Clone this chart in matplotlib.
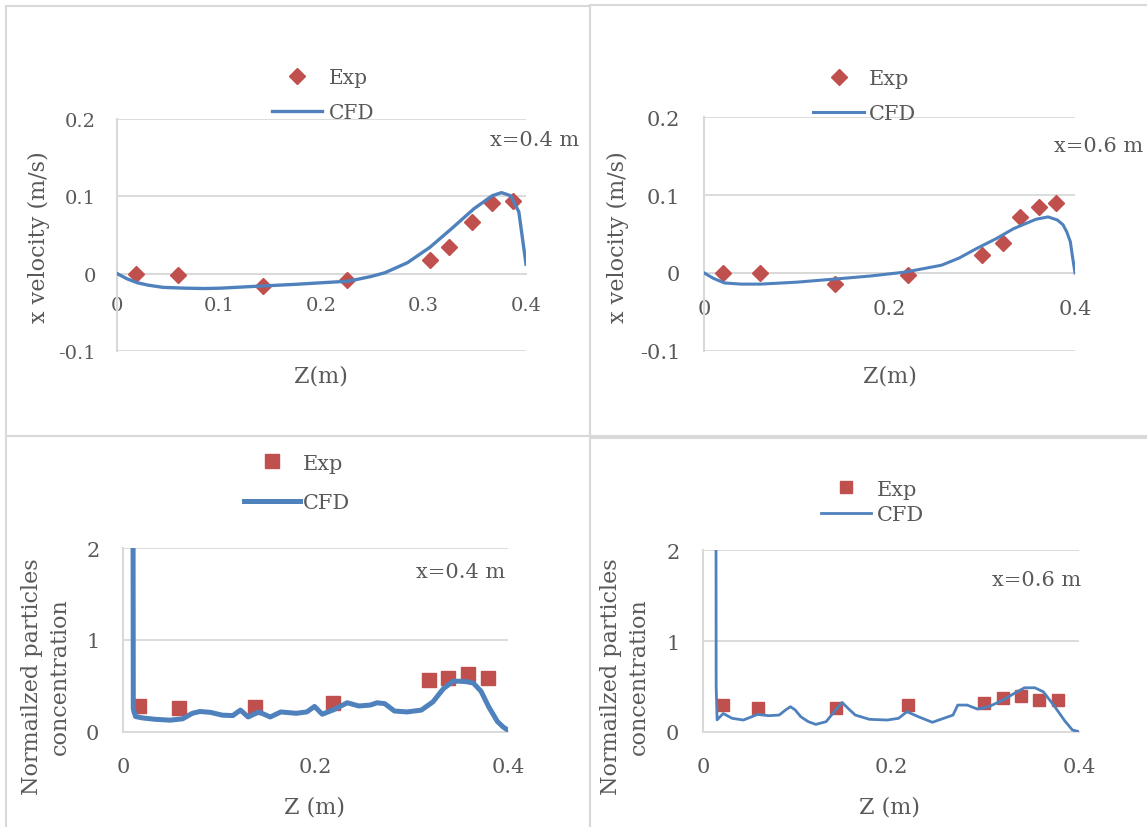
import matplotlib
matplotlib.use("Agg")
import matplotlib.pyplot as plt
from matplotlib.patches import Rectangle

plt.rcParams['font.family'] = ['DejaVu Serif']

# ---- data ----
# x velocity, x=0.4 m
z_exp_v04 = [0.019, 0.060, 0.143, 0.225, 0.306, 0.325, 0.347, 0.367, 0.387]
u_exp_v04 = [0.0, -0.002, -0.016, -0.008, 0.018, 0.034, 0.067, 0.091, 0.094]
z_cfd_v04 = [0, 0.01, 0.02, 0.03, 0.045, 0.066, 0.085, 0.102, 0.13, 0.175, 0.2, 0.226,
             0.248, 0.262, 0.284, 0.306, 0.327, 0.349, 0.367, 0.376, 0.385, 0.393, 0.4]
u_cfd_v04 = [0, -0.007, -0.012, -0.015, -0.018, -0.019, -0.0195, -0.019, -0.017, -0.014, -0.012, -0.010,
             -0.004, 0.001, 0.014, 0.034, 0.058, 0.084, 0.101, 0.105, 0.101, 0.08, 0.012]

# x velocity, x=0.6 m
z_exp_v06 = [0.021, 0.060, 0.141, 0.220, 0.300, 0.322, 0.341, 0.361, 0.380]
u_exp_v06 = [0.0, 0.0, -0.014, -0.003, 0.023, 0.038, 0.072, 0.085, 0.090]
z_cfd_v06 = [0, 0.01, 0.022, 0.04, 0.061, 0.1, 0.141, 0.18, 0.217, 0.256, 0.275, 0.295, 0.315,
             0.334, 0.358, 0.371, 0.381, 0.387, 0.391, 0.395, 0.397, 0.4]
u_cfd_v06 = [0, -0.007, -0.013, -0.0145, -0.0145, -0.012, -0.008, -0.004, 0.001, 0.0098, 0.019, 0.032, 0.044,
             0.057, 0.069, 0.072, 0.068, 0.062, 0.053, 0.04, 0.023, 0.0]

# particle concentration, x=0.4 m
z_exp_c04 = [0.017, 0.058, 0.137, 0.218, 0.318, 0.338, 0.358, 0.379]
c_exp_c04 = [0.28, 0.26, 0.27, 0.31, 0.56, 0.585, 0.63, 0.585]
z_cfd_c04 = [0.0104, 0.0107, 0.013, 0.02, 0.033, 0.049, 0.062, 0.072, 0.08, 0.091, 0.103, 0.114, 0.122,
             0.130, 0.141, 0.153, 0.164, 0.18, 0.191, 0.199, 0.207, 0.218, 0.233, 0.245, 0.257, 0.264,
             0.272, 0.282, 0.295, 0.31, 0.322, 0.333, 0.343, 0.350, 0.357, 0.364, 0.372, 0.38, 0.389,
             0.395, 0.4]
c_cfd_c04 = [2.6, 0.25, 0.165, 0.15, 0.135, 0.125, 0.14, 0.2, 0.22, 0.21, 0.18, 0.175, 0.235,
             0.16, 0.215, 0.16, 0.215, 0.2, 0.215, 0.275, 0.19, 0.235, 0.315, 0.28, 0.29, 0.315,
             0.305, 0.225, 0.215, 0.235, 0.325, 0.47, 0.55, 0.55, 0.545, 0.53, 0.44, 0.27, 0.11,
             0.05, 0.015]

# particle concentration, x=0.6 m
z_exp_c06 = [0.0215, 0.059, 0.141, 0.218, 0.299, 0.319, 0.338, 0.357, 0.378]
c_exp_c06 = [0.293, 0.264, 0.264, 0.293, 0.311, 0.374, 0.392, 0.348, 0.348]
z_cfd_c06 = [0.0138, 0.0140, 0.015, 0.0215, 0.031, 0.043, 0.058, 0.07, 0.081, 0.088, 0.093, 0.098, 0.104,
             0.112, 0.12, 0.131, 0.141, 0.148, 0.155, 0.162, 0.177, 0.196, 0.208, 0.217, 0.229, 0.244,
             0.258, 0.266, 0.271, 0.281, 0.292, 0.304, 0.319, 0.331, 0.342, 0.353, 0.362, 0.373, 0.385,
             0.393, 0.4]
c_cfd_c06 = [2.6, 0.5, 0.13, 0.2, 0.147, 0.128, 0.19, 0.176, 0.183, 0.24, 0.275, 0.24, 0.165,
             0.11, 0.08, 0.11, 0.238, 0.322, 0.25, 0.183, 0.136, 0.128, 0.147, 0.22, 0.165, 0.103,
             0.154, 0.183, 0.293, 0.293, 0.249, 0.275, 0.348, 0.421, 0.484, 0.484, 0.44, 0.293, 0.117,
             0.018, 0.0]

v_ticks = [-0.1, 0, 0.1, 0.2]
v_ticklabels = ['-0.1', '0', '0.1', '0.2']
c_ticks = [0, 1, 2]
c_ticklabels = ['0', '1', '2']
x_ticks_fine = [0, 0.1, 0.2, 0.3, 0.4]
x_ticklabels_fine = ['0', '0.1', '0.2', '0.3', '0.4']
x_ticks_coarse = [0, 0.2, 0.4]
x_ticklabels_coarse = ['0', '0.2', '0.4']

RED = '#C0504D'
BLUE = '#4F81BD'
GRID = '#D9D9D9'
TEXT = '#595959'

W, H = 1147, 828
fig = plt.figure(figsize=(W / 100, H / 100), dpi=100)


def fxy(px, py):
    return px / W, 1 - py / H


def box(l, t, r, b):
    return [l / W, 1 - b / H, (r - l) / W, (b - t) / H]


# chart borders
for l, t, r, b in [(6, 7, 590, 437), (590, 6, 1160, 437), (6, 437, 590, 840), (590, 439, 1160, 840)]:
    fig.add_artist(Rectangle((l / W, 1 - b / H), (r - l) / W, (b - t) / H, transform=fig.transFigure,
                             fill=False, ec=GRID, lw=1.5))


def panel(rect, z_exp, y_exp, z_cfd, y_cfd, marker, ms, lw, ylim, yticks, yticklabels,
          xticks, xticklabels, fs, xpad, ypad, zero_axis):
    ax = fig.add_axes(box(*rect))
    ax.plot(z_exp, y_exp, ls='none', marker=marker, ms=ms, color=RED, mec=RED, label='Exp', zorder=3)
    ax.plot(z_cfd, y_cfd, color=BLUE, lw=lw, label='CFD', zorder=4, solid_joinstyle='round')
    ax.set_xlim(0, 0.4)
    span = ylim[1] - ylim[0]
    ax.set_ylim(ylim[0] - span * 0.002, ylim[1] + span * 0.002)
    ax.set_yticks(yticks)
    ax.set_yticklabels(yticklabels)
    ax.set_xticks(xticks)
    ax.set_xticklabels(xticklabels)
    ax.yaxis.grid(True, color=GRID, lw=1.3)
    ax.set_axisbelow(True)
    for s in ['top', 'right']:
        ax.spines[s].set_visible(False)
    ax.spines['left'].set_color(GRID)
    ax.spines['left'].set_linewidth(1.5)
    ax.spines['bottom'].set_color(GRID)
    ax.spines['bottom'].set_linewidth(1.3)
    if zero_axis:
        ax.spines['bottom'].set_position(('data', 0))
    ax.tick_params(axis='both', length=0, labelsize=fs, colors=TEXT)
    ax.tick_params(axis='x', pad=xpad)
    ax.tick_params(axis='y', pad=ypad)
    ax.patch.set_alpha(0)
    return ax


def legend(ax, x_px, y_px, fs, hl, htp, ls):
    ax.legend(loc='center left', bbox_to_anchor=fxy(x_px, y_px), bbox_transform=fig.transFigure,
              frameon=False, fontsize=fs, handlelength=hl, handletextpad=htp, labelspacing=ls,
              borderpad=0, borderaxespad=0, numpoints=1, labelcolor=TEXT)


ax1 = panel((117, 120, 526, 352), z_exp_v04, u_exp_v04, z_cfd_v04, u_cfd_v04, 'D', 7.8, 2.4,
            (-0.1, 0.2), v_ticks, v_ticklabels, x_ticks_fine, x_ticklabels_fine, 14, 16, 15, True)
ax2 = panel((704, 118, 1075, 352), z_exp_v06, u_exp_v06, z_cfd_v06, u_cfd_v06, 'D', 8.6, 2.2,
            (-0.1, 0.2), v_ticks, v_ticklabels, x_ticks_coarse, x_ticklabels_coarse, 15, 19, 17, True)
ax3 = panel((123, 549, 508, 733), z_exp_c04, c_exp_c04, z_cfd_c04, c_cfd_c04, 's', 9.5, 3.6,
            (0, 2), c_ticks, c_ticklabels, x_ticks_coarse, x_ticklabels_coarse, 15, 18, 17, False)
ax4 = panel((703, 551, 1079, 733), z_exp_c06, c_exp_c06, z_cfd_c06, c_cfd_c06, 's', 9.3, 2.0,
            (0, 2), c_ticks, c_ticklabels, x_ticks_coarse, x_ticklabels_coarse, 15, 18, 17, False)

legend(ax1, 272, 96, 14.5, 2.5, 0.3, 0.83)
legend(ax2, 813, 97, 15, 2.45, 0.25, 0.76)
legend(ax3, 244, 484, 15, 2.7, 0.13, 1.0)
legend(ax4, 821, 503, 15, 2.4, 0.3, 0.33)

# axis titles
fig.text(*fxy(321, 377), 'Z(m)', ha='center', va='center', fontsize=16, color=TEXT)
fig.text(*fxy(890, 377), 'Z(m)', ha='center', va='center', fontsize=16, color=TEXT)
fig.text(*fxy(315, 808), 'Z (m)', ha='center', va='center', fontsize=16, color=TEXT)
fig.text(*fxy(890, 808), 'Z (m)', ha='center', va='center', fontsize=16, color=TEXT)
fig.text(*fxy(39, 237), 'x velocity (m/s)', ha='center', va='center', rotation=90, fontsize=16, color=TEXT)
fig.text(*fxy(618, 237), 'x velocity (m/s)', ha='center', va='center', rotation=90, fontsize=16, color=TEXT)
fig.text(*fxy(46, 677), 'Normailzed particles\nconcentration', ha='center', va='center', rotation=90,
         fontsize=16, color=TEXT, multialignment='center', linespacing=1.33)
fig.text(*fxy(625, 677), 'Normailzed particles\nconcentration', ha='center', va='center', rotation=90,
         fontsize=16, color=TEXT, multialignment='center', linespacing=1.33)

# position notes
fig.text(*fxy(490, 140), 'x=0.4 m', ha='left', va='center', fontsize=15, color=TEXT)
fig.text(*fxy(1054, 147), 'x=0.6 m', ha='left', va='center', fontsize=15, color=TEXT)
fig.text(*fxy(416, 573), 'x=0.4 m', ha='left', va='center', fontsize=15, color=TEXT)
fig.text(*fxy(992, 581), 'x=0.6 m', ha='left', va='center', fontsize=15, color=TEXT)

fig.savefig('out.png', dpi=100)
